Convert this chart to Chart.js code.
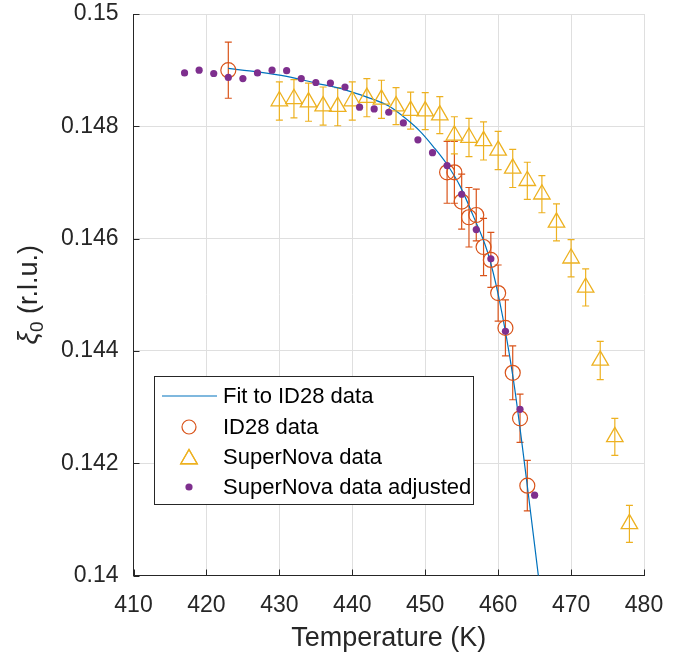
<!DOCTYPE html>
<html>
<head>
<meta charset="utf-8">
<script src="https://cdn.jsdelivr.net/npm/chart.js@4.4.0/dist/chart.umd.min.js"></script>
<style>
html, body { margin: 0; padding: 0; background: #fff; }
</style>
</head>
<body>
<canvas id="chart" width="688" height="656"></canvas>
<script>
// fit curve
const fitT  = [423, 427, 431, 435, 439, 442, 445, 447.5, 449.3, 451.1, 453, 454.8, 456.6, 458.5, 460.1, 462.1, 463.9, 465.5, 466];
const fitXi = [0.14903, 0.14897, 0.14889, 0.14877, 0.14865, 0.14852, 0.14836, 0.14812, 0.14791, 0.14764, 0.14732, 0.14693, 0.14640, 0.14578, 0.14495, 0.14348, 0.14170, 0.14001, 0.13948];

// ID28 data
const id28T   = [423, 453, 454, 455, 456, 457, 458, 459, 460, 461, 462, 463, 464];
const id28Xi  = [0.14900, 0.14718, 0.14718, 0.14666, 0.14638, 0.14642, 0.14585, 0.14562, 0.14503, 0.14441, 0.14361, 0.14280, 0.14160];
const id28Err = [0.00050, 0.00055, 0.00055, 0.00049, 0.00053, 0.00046, 0.00051, 0.00049, 0.00050, 0.00050, 0.00048, 0.00043, 0.00045];

// SuperNova data
const snT   = [430, 432, 434, 436, 438, 440, 442, 444, 446, 448, 450, 452, 454, 456, 458, 460, 462, 464, 466, 468, 470, 472, 474, 476, 478];
const snXi  = [0.14845, 0.14849, 0.14843, 0.14836, 0.14835, 0.14845, 0.14851, 0.14848, 0.14836, 0.14828, 0.14827, 0.14820, 0.14784, 0.14780, 0.14774, 0.14757, 0.14725, 0.14703, 0.14679, 0.14629, 0.14565, 0.14513, 0.14383, 0.14247, 0.14092];
const snErr = [0.00034, 0.00034, 0.00034, 0.00034, 0.00034, 0.00034, 0.00034, 0.00034, 0.00033, 0.00033, 0.00033, 0.00033, 0.00033, 0.00034, 0.00034, 0.00034, 0.00034, 0.00033, 0.00033, 0.00033, 0.00033, 0.00033, 0.00034, 0.00033, 0.00033];

// SuperNova data adjusted
const adjT  = [417, 419, 421, 423, 425, 427, 429, 431, 433, 435, 437, 439, 441, 443, 445, 447, 449, 451, 453, 455, 457, 459, 461, 463, 465];
const adjXi = [0.14895, 0.14900, 0.14894, 0.14887, 0.14885, 0.14895, 0.14900, 0.14899, 0.14885, 0.14878, 0.14877, 0.14870, 0.14834, 0.14831, 0.14825, 0.14806, 0.14776, 0.14753, 0.14730, 0.14679, 0.14616, 0.14564, 0.14435, 0.14296, 0.14143];

// axes
const xTicks = [410, 420, 430, 440, 450, 460, 470, 480];
const yTicks = [0.14, 0.142, 0.144, 0.146, 0.148, 0.15];
const yTickLabels = ['0.14', '0.142', '0.144', '0.146', '0.148', '0.15'];
const seriesNames = ['Fit to ID28 data', 'ID28 data', 'SuperNova data', 'SuperNova data adjusted'];

const BLUE = '#0072BD', ORANGE = '#D95319', YELLOW = '#EDB120', PURPLE = '#7E2F8E';
const AXIS = '#262626', GRID = '#dfdfdf';
const FONT = '"Liberation Sans", Arial, sans-serif';

function pts(xs, ys) {
    return xs.map((x, i) => ({ x: x, y: ys[i] }));
}

// error bars drawn through the library's scales
const errorBars = {
    id: 'errorBars',
    beforeDatasetsDraw(chart) {
        const ctx = chart.ctx, xs = chart.scales.x, ys = chart.scales.y, a = chart.chartArea;
        ctx.save();
        ctx.beginPath();
        ctx.rect(a.left, a.top, a.right - a.left, a.bottom - a.top);
        ctx.clip();
        chart.data.datasets.forEach(ds => {
            if (!ds.errors) return;
            ctx.strokeStyle = ds.borderColor;
            ctx.lineWidth = 1.2;
            ds.data.forEach((p, i) => {
                const px = xs.getPixelForValue(p.x);
                const y1 = ys.getPixelForValue(p.y + ds.errors[i]);
                const y2 = ys.getPixelForValue(p.y - ds.errors[i]);
                ctx.beginPath();
                ctx.moveTo(px, y1); ctx.lineTo(px, y2);
                ctx.moveTo(px - 3.5, y1); ctx.lineTo(px + 3.5, y1);
                ctx.moveTo(px - 3.5, y2); ctx.lineTo(px + 3.5, y2);
                ctx.stroke();
            });
        });
        ctx.restore();
    }
};

// inward tick marks, y title with subscript, legend box
const decorations = {
    id: 'decorations',
    afterDraw(chart) {
        const ctx = chart.ctx, xs = chart.scales.x, ys = chart.scales.y, a = chart.chartArea;
        ctx.save();
        ctx.strokeStyle = AXIS;
        ctx.lineWidth = 1;
        ctx.beginPath();
        xTicks.forEach(v => {
            const px = Math.round(xs.getPixelForValue(v)) + 0.5;
            ctx.moveTo(px, a.bottom); ctx.lineTo(px, a.bottom - 6);
        });
        yTicks.forEach(v => {
            const py = Math.round(ys.getPixelForValue(v)) + 0.5;
            ctx.moveTo(a.left, py); ctx.lineTo(a.left + 6, py);
        });
        ctx.stroke();

        // y-axis title
        ctx.save();
        ctx.translate(30, (a.top + a.bottom) / 2);
        ctx.rotate(-Math.PI / 2);
        ctx.fillStyle = AXIS;
        ctx.textBaseline = 'middle';
        const f1 = 'italic 28px ' + FONT, f2 = '19px ' + FONT, f3 = '27px ' + FONT;
        ctx.font = f1; const w1 = ctx.measureText('\u03BE').width;
        ctx.font = f2; const w2 = ctx.measureText('0').width;
        ctx.font = f3; const w3 = ctx.measureText(' (r.l.u.)').width;
        let x0 = -(w1 + w2 + w3) / 2;
        ctx.textAlign = 'left';
        ctx.font = f1; ctx.fillText('\u03BE', x0, -1);
        ctx.font = f2; ctx.fillText('0', x0 + w1, 8);
        ctx.font = f3; ctx.fillText(' (r.l.u.)', x0 + w1 + w2, 0);
        ctx.restore();

        // legend
        const lx = 154.5, ly = 376.5, lw = 319, lh = 128;
        ctx.fillStyle = '#fff';
        ctx.fillRect(lx, ly, lw, lh);
        ctx.strokeStyle = AXIS;
        ctx.lineWidth = 1;
        ctx.strokeRect(lx, ly, lw, lh);
        const rowY = [396, 427, 457, 487];
        const mx = 189;
        ctx.strokeStyle = BLUE; ctx.lineWidth = 1.2;
        ctx.beginPath(); ctx.moveTo(162, rowY[0]); ctx.lineTo(217, rowY[0]); ctx.stroke();
        ctx.strokeStyle = ORANGE;
        ctx.beginPath(); ctx.arc(mx, rowY[1], 7, 0, Math.PI * 2); ctx.stroke();
        ctx.strokeStyle = YELLOW; ctx.lineWidth = 1.3;
        Chart.helpers.drawPoint(ctx, { pointStyle: 'triangle', radius: 9.5, rotation: 0, borderWidth: 1.3 }, mx, rowY[2] + 2);
        ctx.stroke();
        ctx.fillStyle = PURPLE;
        ctx.beginPath(); ctx.arc(mx, rowY[3], 3.6, 0, Math.PI * 2); ctx.fill();
        ctx.fillStyle = '#000';
        ctx.font = '22px ' + FONT;
        ctx.textAlign = 'left';
        ctx.textBaseline = 'middle';
        seriesNames.forEach((s, i) => ctx.fillText(s, 223, rowY[i] + 1));
        ctx.restore();
    }
};

new Chart(document.getElementById('chart'), {
    type: 'scatter',
    data: {
        datasets: [
            {
                label: seriesNames[0], type: 'line', data: pts(fitT, fitXi),
                borderColor: BLUE, borderWidth: 1.2, pointRadius: 0, fill: false,
                cubicInterpolationMode: 'monotone', order: 4
            },
            {
                label: seriesNames[1], data: pts(id28T, id28Xi), errors: id28Err,
                borderColor: ORANGE, backgroundColor: 'rgba(0,0,0,0)', borderWidth: 1.2,
                pointStyle: 'circle', pointRadius: 7.5, order: 3
            },
            {
                label: seriesNames[2], data: pts(snT, snXi), errors: snErr,
                borderColor: YELLOW, backgroundColor: 'rgba(0,0,0,0)', borderWidth: 1.3,
                pointStyle: 'triangle', pointRadius: 9.5, order: 2
            },
            {
                label: seriesNames[3], data: pts(adjT, adjXi),
                borderColor: PURPLE, backgroundColor: PURPLE, borderWidth: 0,
                pointStyle: 'circle', pointRadius: 3.6, order: 1
            }
        ]
    },
    options: {
        responsive: false,
        animation: false,
        devicePixelRatio: 1,
        layout: { padding: { top: 0, right: 44, left: 0, bottom: 0 } },
        plugins: { legend: { display: false }, tooltip: { enabled: false } },
        scales: {
            x: {
                type: 'linear', min: 410, max: 480,
                afterBuildTicks: s => { s.ticks = xTicks.map(v => ({ value: v })); },
                afterFit: s => { s.height = 80.5; s.paddingLeft = 0; s.paddingRight = 0; },
                grid: { color: GRID, lineWidth: 1, drawTicks: false },
                border: { color: AXIS, width: 1 },
                ticks: { color: AXIS, font: { family: FONT, size: 23 }, padding: 16, maxRotation: 0 },
                title: { display: true, text: 'Temperature (K)', color: AXIS, font: { family: FONT, size: 27 }, padding: { top: 0, bottom: 1 } }
            },
            y: {
                type: 'linear', min: 0.14, max: 0.15,
                afterBuildTicks: s => { s.ticks = yTicks.map(v => ({ value: v })); },
                afterFit: s => { s.width = 133.5; s.paddingTop = 14; s.paddingBottom = 0; },
                grid: { color: GRID, lineWidth: 1, drawTicks: false },
                border: { color: AXIS, width: 1 },
                ticks: {
                    color: AXIS, font: { family: FONT, size: 23 }, padding: 15,
                    callback: (v, i) => yTickLabels[i]
                }
            }
        }
    },
    plugins: [errorBars, decorations]
});
</script>
</body>
</html>
